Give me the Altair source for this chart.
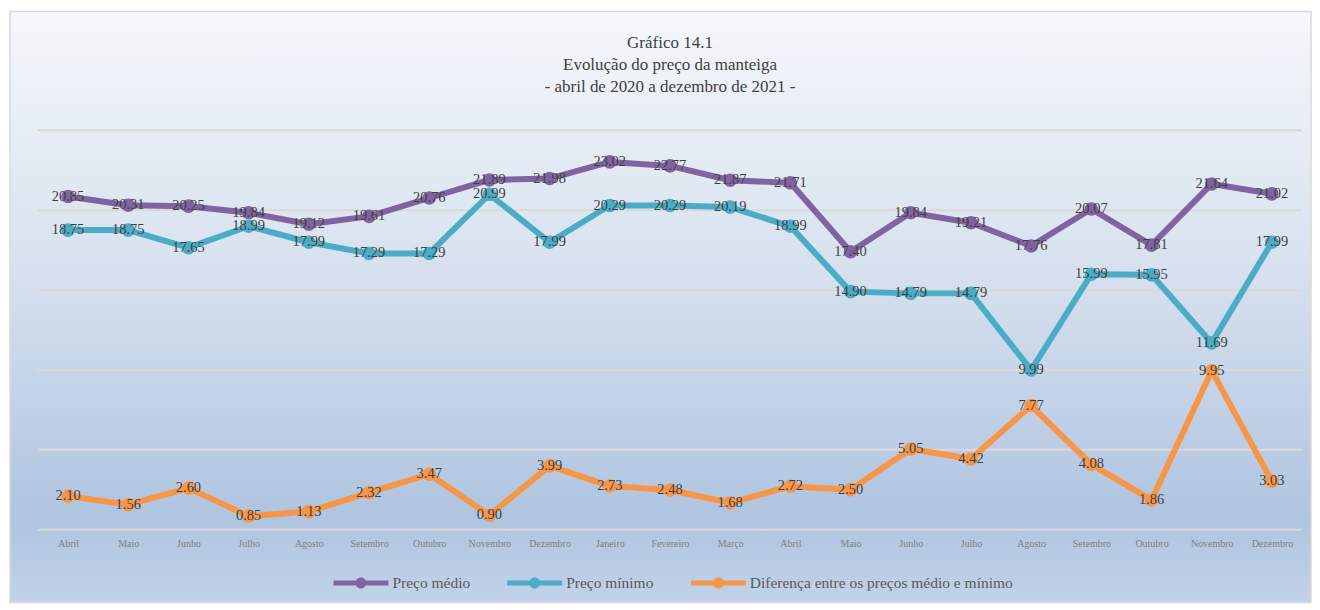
import altair as alt
import pandas as pd

# ---- data ----
month_keys = [
    "Abril 2020", "Maio 2020", "Junho 2020", "Julho 2020", "Agosto 2020",
    "Setembro 2020", "Outubro 2020", "Novembro 2020", "Dezembro 2020",
    "Janeiro 2021", "Fevereiro 2021", "Março 2021", "Abril 2021", "Maio 2021",
    "Junho 2021", "Julho 2021", "Agosto 2021", "Setembro 2021", "Outubro 2021",
    "Novembro 2021", "Dezembro 2021",
]
preco_medio = [20.85, 20.31, 20.25, 19.84, 19.12, 19.61, 20.76, 21.89, 21.98,
               23.02, 22.77, 21.87, 21.71, 17.40, 19.84, 19.21, 17.76, 20.07,
               17.81, 21.64, 21.02]
preco_minimo = [18.75, 18.75, 17.65, 18.99, 17.99, 17.29, 17.29, 20.99, 17.99,
                20.29, 20.29, 20.19, 18.99, 14.90, 14.79, 14.79, 9.99, 15.99,
                15.95, 11.69, 17.99]
diferenca = [2.10, 1.56, 2.60, 0.85, 1.13, 2.32, 3.47, 0.90, 3.99, 2.73, 2.48,
             1.68, 2.72, 2.50, 5.05, 4.42, 7.77, 4.08, 1.86, 9.95, 3.03]
series_names = ["Preço médio", "Preço mínimo",
                "Diferença entre os preços médio e mínimo"]
series_colors = ["#8064A2", "#4BACC6", "#F79646"]
grid_values = [0, 5, 10, 15, 20, 25]
title_lines = ["Gráfico 14.1", "Evolução do preço da manteiga",
               "- abril de 2020 a dezembro de 2021 -"]

rows = []
for name, vals in zip(series_names, [preco_medio, preco_minimo, diferenca]):
    for i, (k, v) in enumerate(zip(month_keys, vals)):
        rows.append({"mes": k, "serie": name, "valor": v, "ordem": i})
df = pd.DataFrame(rows)
grid_df = pd.DataFrame({"v": grid_values})
bg_df = pd.DataFrame({"a": [0]})

W, H = 1266, 400
SERIF = "Liberation Serif"

x_enc = alt.X(
    "mes:N", sort=month_keys, title=None,
    scale=alt.Scale(type="point", padding=0.5),
    axis=alt.Axis(labelExpr="split(datum.label, ' ')[0]", labelAngle=0,
                  ticks=False, domain=False, grid=False, labelPadding=9,
                  labelFont=SERIF, labelFontSize=10, labelColor="#7F7F7F",
                  zindex=1),
)
y_scale = alt.Scale(domain=[0, 25], nice=False, zero=True)
y_enc = alt.Y("valor:Q", scale=y_scale, axis=None)

legend_path = ("M-1,-0.09L1,-0.09L1,0.09L-1,0.09Z "
               "M0.2,0A0.2,0.2,0,1,1,-0.2,0A0.2,0.2,0,1,1,0.2,0Z")
color_enc = alt.Color(
    "serie:N",
    scale=alt.Scale(domain=series_names, range=series_colors),
    sort=series_names,
    legend=alt.Legend(
        title=None, orient="none", legendX=296, legendY=426,
        direction="horizontal", symbolType=legend_path, symbolSize=3025,
        symbolStrokeWidth=0, symbolOpacity=1, labelFont=SERIF,
        labelFontSize=15.5, labelColor="#595959", labelOffset=4,
        columnPadding=37, labelLimit=400,
    ),
)

background = alt.Chart(bg_df).mark_rect(
    fill=alt.LinearGradient(
        gradient="linear", x1=0, x2=0, y1=0, y2=1,
        stops=[
            alt.GradientStop(color="#F5F8FC", offset=0),
            alt.GradientStop(color="#D6E0EE", offset=0.45),
            alt.GradientStop(color="#AFC4E0", offset=0.86),
            alt.GradientStop(color="#C2D3E8", offset=1),
        ],
    ),
    stroke="#D9D9D9", strokeWidth=1.5,
).encode(
    x=alt.value(-28), x2=alt.value(W + 9),
    y=alt.value(-119), y2=alt.value(H + 73),
)

title = alt.Chart(bg_df).mark_text(
    text=title_lines, font=SERIF, fontSize=17, color="#404040",
    lineHeight=22, align="center", baseline="middle",
).encode(x=alt.value(W / 2), y=alt.value(-87))

grid = alt.Chart(grid_df).mark_rule(color="#D9D9D9", strokeWidth=2).encode(
    y=alt.Y("v:Q", scale=y_scale, axis=None)
)

points = alt.Chart(df).mark_point(filled=True, size=185, opacity=1).encode(
    x=x_enc, y=y_enc, color=color_enc
)
lines = alt.Chart(df).mark_line(strokeWidth=6, strokeJoin="round",
                                strokeCap="round").encode(
    x=x_enc, y=y_enc, color=color_enc, order="ordem:Q", detail="serie:N"
)
labels = alt.Chart(df).mark_text(
    font=SERIF, fontSize=14.5, color="#404040", baseline="middle",
    align="center"
).encode(
    x=x_enc, y=y_enc, text=alt.Text("valor:Q", format=".2f")
)

chart = alt.layer(background, title, grid, points, lines, labels).properties(
    width=W, height=H,
    padding={"left": 1, "top": 2, "right": 0, "bottom": 0},
    background="white",
).configure_view(stroke=None)

chart.save("out.html", embed_options={"renderer": "svg", "actions": False})
